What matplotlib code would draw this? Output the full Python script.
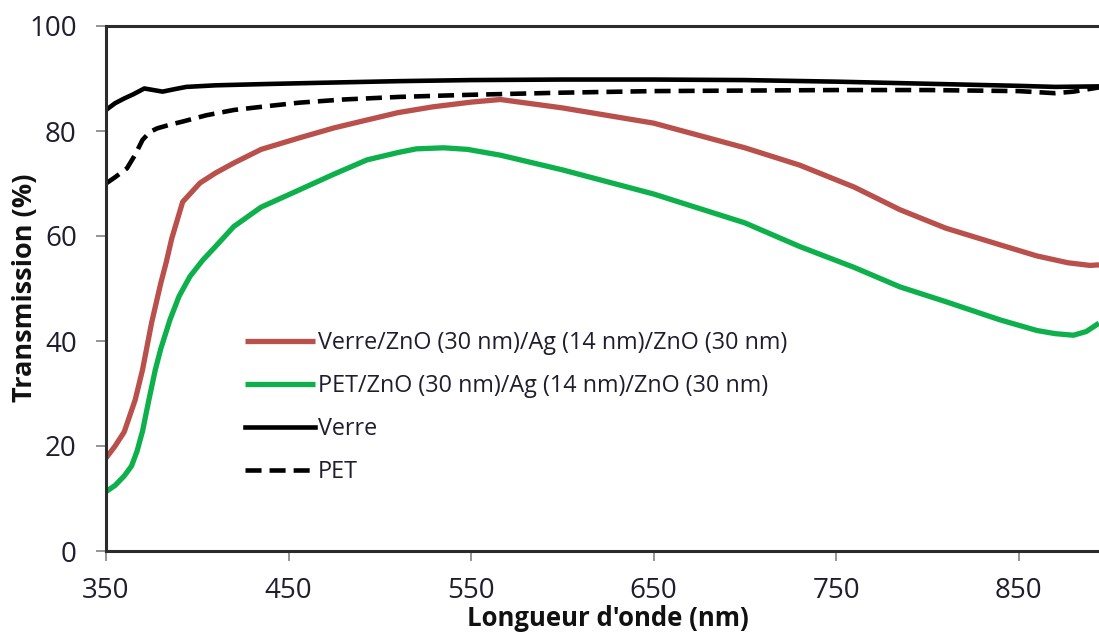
import matplotlib
matplotlib.use("Agg")
import matplotlib.pyplot as plt

plt.rcParams['font.family'] = ['Open Sans', 'DejaVu Sans']

# Transmission spectra (%), wavelength in nm
wl_verre = [350, 355, 360, 365, 371, 376, 381, 388, 394, 410, 438, 470, 511, 550,
            600, 650, 700, 750, 800, 850, 870, 894]
t_verre = [84.0, 85.3, 86.2, 87.0, 88.1, 87.8, 87.5, 88.0, 88.4, 88.7, 88.95, 89.2,
           89.5, 89.7, 89.8, 89.8, 89.7, 89.4, 89.0, 88.6, 88.4, 88.5]

wl_pet = [350, 355, 361.5, 366, 370, 374, 378, 385, 392, 405, 420, 440, 456, 480,
          511, 550, 600, 650, 700, 750, 800, 850, 870, 880, 894]
t_pet = [70.0, 71.2, 72.9, 75.5, 78.3, 79.8, 80.5, 81.2, 81.8, 83.0, 84.0, 84.8,
         85.4, 86.0, 86.5, 86.9, 87.3, 87.6, 87.7, 87.8, 87.8, 87.6, 87.2, 87.5, 88.3]

wl_verre_zao = [350, 355, 360, 366, 370, 375, 380, 383, 386, 392, 401.5, 410, 420,
                435, 456, 475, 493, 510, 529, 550, 566, 600, 650, 700, 730, 760,
                785, 810, 840, 860, 877, 889, 894]
t_verre_zao = [17.7, 20.0, 22.7, 28.8, 34.5, 43.5, 51.0, 55.0, 59.5, 66.5, 70.1,
               72.0, 73.9, 76.5, 78.7, 80.6, 82.1, 83.5, 84.6, 85.5, 86.0, 84.4,
               81.5, 76.8, 73.5, 69.3, 65.0, 61.5, 58.3, 56.2, 54.9, 54.4, 54.5]

wl_pet_zao = [350, 355, 360, 364, 367, 370, 373.5, 377, 380, 385, 390, 396, 403,
              410, 420, 435, 456, 475, 493, 510, 520, 535, 548, 566, 600, 650,
              700, 730, 760, 785, 810, 840, 860, 870, 880, 887, 894]
t_pet_zao = [11.3, 12.5, 14.3, 16.2, 19.0, 22.8, 28.8, 34.5, 38.5, 44.0, 48.5,
             52.3, 55.4, 58.0, 61.8, 65.5, 68.8, 71.8, 74.5, 75.9, 76.6, 76.8,
             76.5, 75.4, 72.6, 68.0, 62.5, 58.0, 54.0, 50.3, 47.5, 44.0, 42.0,
             41.4, 41.1, 41.8, 43.4]

labels = ["Verre/ZnO (30 nm)/Ag (14 nm)/ZnO (30 nm)",
          "PET/ZnO (30 nm)/Ag (14 nm)/ZnO (30 nm)",
          "Verre",
          "PET"]
x_ticks = [350, 450, 550, 650, 750, 850]
y_ticks = [0, 20, 40, 60, 80, 100]

W, H = 1099, 635
fig = plt.figure(figsize=(W / 100, H / 100), dpi=100)
ax = fig.add_axes([106 / W, 1 - 551 / H, 1 - 106 / W, (551 - 26) / H])

ax.plot(wl_verre_zao, t_verre_zao, color='#B9504B', lw=3.8, label=labels[0],
        solid_capstyle='butt')
ax.plot(wl_pet_zao, t_pet_zao, color='#0DB04B', lw=3.8, label=labels[1],
        solid_capstyle='butt')
ax.plot(wl_verre, t_verre, color='black', lw=3.3, label=labels[2])
ax.plot(wl_pet, t_pet, color='black', lw=3.3, ls=(0, (3.5, 1.75)), label=labels[3])

ax.set_xlim(350, 894)
ax.set_ylim(0, 100)
ax.set_xticks(x_ticks)
ax.set_yticks(y_ticks)

for side in ('left', 'bottom', 'top'):
    ax.spines[side].set_color('#2b2b2b')
    ax.spines[side].set_linewidth(2.2)
ax.spines['right'].set_visible(False)

ax.tick_params(axis='both', direction='out', length=7, width=1.3,
               color='#8c8c8c', labelsize=20, labelcolor='#1e1e2e')
ax.tick_params(axis='x', pad=12)
ax.tick_params(axis='y', pad=14)

fig.text(608 / W, 1 - 618 / H, "Longueur d'onde (nm)", ha='center', va='center',
         fontsize=18.5, fontweight='bold', color='#111111')
fig.text(25 / W, 1 - 288 / H, "Transmission (%)", ha='center', va='center',
         rotation=90, fontsize=19.5, fontweight='bold', color='#111111')

leg = ax.legend(loc='upper left', bbox_to_anchor=(245 / W, 1 - 331 / H),
                bbox_transform=fig.transFigure, frameon=False, fontsize=16.8,
                handlelength=3.0, handletextpad=0.13, labelspacing=0.82,
                borderpad=0, borderaxespad=0)
for t in leg.get_texts():
    t.set_color('#1e1e2e')

fig.savefig('out.png', dpi=100)
